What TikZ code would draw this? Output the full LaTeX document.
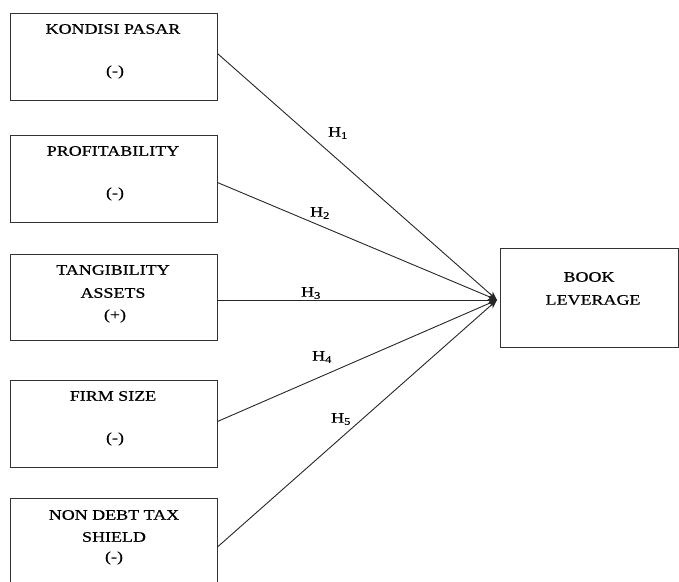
\documentclass[tikz,border=0pt]{standalone}
\usepackage{fontspec}
\setmainfont{Liberation Serif}[FakeStretch=1.24,FakeBold=0.6]
\usetikzlibrary{arrows.meta,calc}
\begin{document}
\begin{tikzpicture}[x=1pt,y=-1pt,
  box/.style={draw=black!80,line width=0.9pt,rectangle,inner sep=0pt},
  txt/.style={font=\fontsize{14.5}{16}\selectfont,inner sep=0pt,anchor=center},
  hl/.style={font=\fontsize{14.5}{16}\selectfont,inner sep=0pt,anchor=center},
  conn/.style={draw=black!85,line width=0.9pt,-{Stealth[length=9pt,width=7pt]}}]
\useasboundingbox (0,0) rectangle (679,581);
\clip (0,0) rectangle (679,581);
% boxes
\node[box,minimum width=207pt,minimum height=87pt] (b1) at (113.5,56.5) {};
\node[box,minimum width=207pt,minimum height=87pt] (b2) at (113.5,178.5) {};
\node[box,minimum width=207pt,minimum height=86pt] (b3) at (113.5,297) {};
\node[box,minimum width=207pt,minimum height=87pt] (b4) at (113.5,423.5) {};
\node[box,minimum width=207pt,minimum height=100pt] (b5) at (113.5,548) {};
\node[box,minimum width=178pt,minimum height=99pt] (bl) at (589,297.5) {};
% texts
\node[txt] (t1a) at (113,29) {KONDISI PASAR};
\node[txt] (t1b) at (115,72) {(-)};
\node[txt] (t2a) at (113,151) {PROFITABILITY};
\node[txt] (t2b) at (115,194) {(-)};
\node[txt] (t3a) at (113,270) {TANGIBILITY};
\node[txt] (t3b) at (113,293) {ASSETS};
\node[txt] (t3c) at (115,316) {(+)};
\node[txt] (t4a) at (113,396) {FIRM SIZE};
\node[txt] (t4b) at (115,439) {(-)};
\node[txt] (t5a) at (114,515) {NON DEBT TAX};
\node[txt] (t5b) at (114,537) {SHIELD};
\node[txt] (t5c) at (114,558) {(-)};
\node[txt] (tla) at (589,277) {BOOK};
\node[txt] (tlb) at (593,300) {LEVERAGE};
% target
\coordinate (tg) at (497,300);
% connectors
\draw[conn] ($(b1.east)+(0,-3)$) -- (tg);
\draw[conn] ($(b2.east)+(0,4)$) -- (tg);
\draw[conn] ($(b3.east)+(0,3)$) -- (tg);
\draw[conn] ($(b4.east)+(0,-2)$) -- (tg);
\draw[conn] ($(b5.east)+(0,-1)$) -- (tg);
% labels
\node[hl] (h1) at (338,133) {H\textsubscript{1}};
\node[hl] (h2) at (320,213) {H\textsubscript{2}};
\node[hl] (h3) at (311,293) {H\textsubscript{3}};
\node[hl] (h4) at (322,357) {H\textsubscript{4}};
\node[hl] (h5) at (341,419) {H\textsubscript{5}};
\end{tikzpicture}
\end{document}
